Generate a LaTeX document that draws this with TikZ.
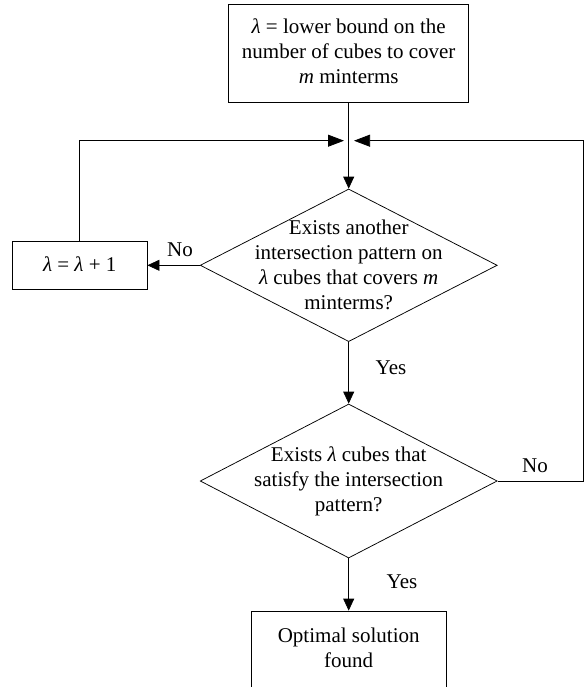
\documentclass[tikz,border=0pt]{standalone}
\usepackage{fontspec}
\setmainfont{Liberation Serif}
\usetikzlibrary{shapes.geometric,arrows.meta}
\begin{document}
\begin{tikzpicture}[x=1pt,y=-1pt,
  line/.style={line width=0.75pt, draw=black},
  arr/.style={line, -{Triangle[length=12pt,width=11pt]}},
  sarr/.style={line, -{Triangle[length=16pt,width=12pt]}},
  box/.style={draw, line width=0.75pt, rectangle, inner sep=0pt},
  dia/.style={draw, line width=0.75pt, diamond, inner sep=0pt},
  txt/.style={align=center, font=\fontsize{21}{25}\selectfont, inner sep=0pt},
  lbl/.style={anchor=base, font=\fontsize{21}{25}\selectfont, inner sep=0pt}]
\clip (0,0) rectangle (584,687);
% top box
\node[box, minimum width=240pt, minimum height=98pt] (top) at (348.7,53) {};
\node[txt] (toptxt) at (348.7,51.7) {\textit{λ} = lower bound on the\\number of cubes to cover\\\textit{m} minterms};
% junction coordinates
\coordinate (jl) at (344,140.7);
\coordinate (jr) at (354,140.7);
% diamond 1
\node[dia, minimum width=297pt, minimum height=152.6pt] (d1) at (348.7,265.3) {};
\node[txt] (d1txt) at (348.7,265.2) {Exists another\\intersection pattern on\\\textit{λ} cubes that covers \textit{m}\\minterms?};
% lambda box
\node[box, minimum width=134.7pt, minimum height=48pt] (inc) at (79.7,265.3) {};
\node[lbl] (inctxt) at (79.7,271.7) {\textit{λ} = \textit{λ} + 1};
% diamond 2
\node[dia, minimum width=297pt, minimum height=154pt] (d2) at (348.7,481) {};
\node[txt] (d2txt) at (348.7,481) {Exists \textit{λ} cubes that\\satisfy the intersection\\pattern?};
% bottom box
\node[box, minimum width=195pt, minimum height=84pt] (opt) at (348.7,653) {};
\node[txt] (opttxt) at (348.7,648) {Optimal solution\\found};
\coordinate (rc) at (583.5,481);
% connectors
\draw[arr] (top.south) -- (d1.north);
\draw[arr] (d1.west) -- (inc.east);
\draw[sarr] (inc.north) |- (jl);
\draw[line] (d2.east) -- (rc);
\draw[sarr] (rc) |- (jr);
\draw[arr] (d1.south) -- (d2.north);
\draw[arr] (d2.south) -- (opt.north);
% labels
\node[lbl] (no1) at (180,256.7) {No};
\node[lbl] (yes1) at (391,374) {Yes};
\node[lbl] (no2) at (535,472) {No};
\node[lbl] (yes2) at (402,588) {Yes};
\end{tikzpicture}
\end{document}
